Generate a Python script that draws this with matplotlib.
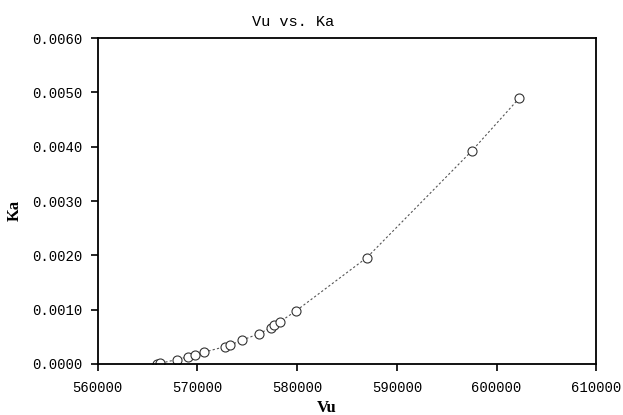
import matplotlib
matplotlib.use("Agg")
import matplotlib.pyplot as plt
from matplotlib.ticker import FormatStrFormatter

# data
vu = [565900, 566200, 567900, 569000, 569800, 570700, 572800, 573300,
      574500, 576200, 577400, 577700, 578300, 579900, 587000, 597500, 602300]
ka = [0.00000, 0.00001, 0.00008, 0.00013, 0.00017, 0.00022, 0.00032, 0.00035,
      0.00044, 0.00056, 0.00067, 0.00072, 0.00078, 0.00098, 0.00196, 0.00392, 0.00490]

x_ticks = [560000, 570000, 580000, 590000, 600000, 610000]
y_ticks = [0.0, 0.001, 0.002, 0.003, 0.004, 0.005, 0.006]

mono = "Liberation Mono"
serif = "Liberation Serif"

fig = plt.figure(figsize=(6.23, 4.15), dpi=100)
ax = fig.add_axes([0.157, 0.123, 0.800, 0.785])

ax.plot(vu, ka, linestyle=(0, (2, 2)), color="#555555", linewidth=0.8,
        marker="o", markersize=6.5, markerfacecolor="white",
        markeredgecolor="#333333", markeredgewidth=0.8)

ax.set_xlim(560000, 610000)
ax.set_ylim(0, 0.006)
ax.set_xticks(x_ticks)
ax.set_yticks(y_ticks)
ax.yaxis.set_major_formatter(FormatStrFormatter("%.4f"))
ax.xaxis.set_major_formatter(FormatStrFormatter("%d"))

ax.tick_params(direction="out", length=5, width=1.2, color="black",
               labelsize=10, pad=6)
ax.tick_params(axis="x", pad=7)
for lab in ax.get_xticklabels() + ax.get_yticklabels():
    lab.set_fontfamily(mono)

for sp in ax.spines.values():
    sp.set_linewidth(1.3)
    sp.set_color("black")

fig.text(293 / 623, 1 - 22 / 415, "Vu vs. Ka", family=mono, fontsize=11,
         ha="center", va="center")
fig.text(327 / 623, 1 - 408 / 415, "Vu", family=serif, fontsize=12,
         fontweight="bold", ha="center", va="center")
fig.text(15 / 623, 1 - 210 / 415, "Ka", family=serif, fontsize=12,
         fontweight="bold", ha="center", va="center", rotation=90)

fig.savefig("out.png", dpi=100)
